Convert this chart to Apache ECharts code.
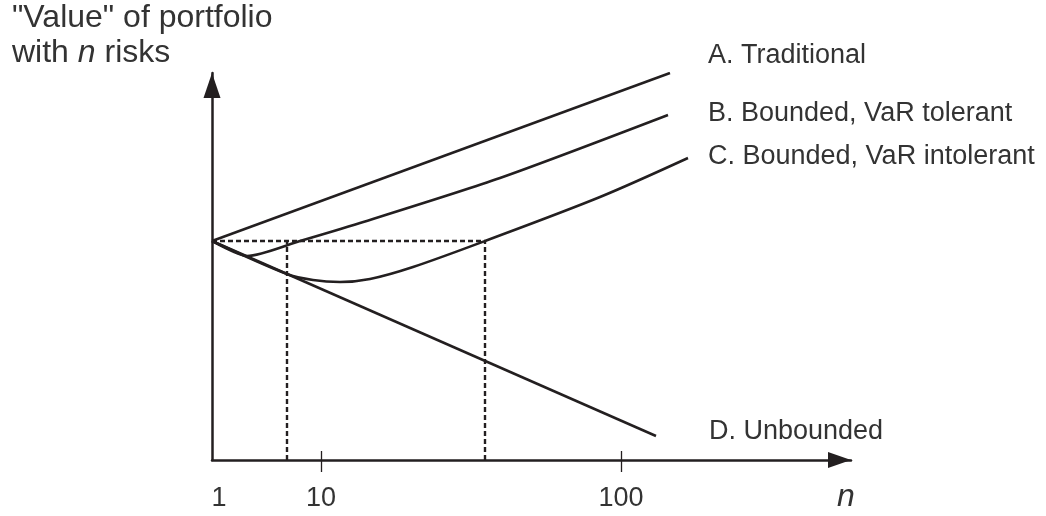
<!DOCTYPE html>
<html>
<head>
<meta charset="utf-8">
<script src="https://cdn.jsdelivr.net/npm/echarts@6/dist/echarts.min.js"></script>
<style>
html,body{margin:0;padding:0;background:#fff;}
#c{width:1046px;height:516px;}
</style>
</head>
<body>
<div id="c"></div>
<script>
// Schematic chart: x and y are in abstract "chart units".
const xTickAt = [0, 109, 409];
const xTickText = ['1', '10', '100'];
const seriesNames = ['A. Traditional', 'B. Bounded, VaR tolerant', 'C. Bounded, VaR intolerant', 'D. Unbounded'];
const lineA = [[0, 219], [458, 387]];
const lineB = [[0, 219], [35, 204], [88, 219], [148, 237], [288, 282], [456, 345]];
const lineC = [[0, 219], [75, 186], [101, 180], [128, 178], [158, 181], [201, 193], [273, 219], [388, 263], [476, 302]];
const lineD = [[0, 219], [444, 24]];
const guideH = [[0, 219], [273, 219]];
const guideV1 = [[75, 0], [75, 219]];
const guideV2 = [[273, 0], [273, 219]];

const INK = '#231f20';
const TXT = '#333333';
const FONT = '"Liberation Sans", Arial, Helvetica, sans-serif';

const chart = echarts.init(document.getElementById('c'), null, {renderer: 'canvas'});

const labelOffsets = [[30, -17], [32, -1], [12, -1], [45, -4]];
const datas = [lineA, lineB, lineC, lineD];
const smooths = [false, 0.25, 0.3, false];

const mainSeries = datas.map((d, i) => ({
  name: seriesNames[i],
  type: 'line',
  data: d,
  smooth: smooths[i],
  showSymbol: false,
  symbol: 'none',
  lineStyle: {color: INK, width: 2.5},
  endLabel: {
    show: true,
    formatter: p => p.seriesName,
    color: TXT,
    fontSize: 27,
    fontFamily: FONT,
    offset: labelOffsets[i]
  },
  animation: false,
  silent: true,
  z: 3
}));

const guideSeries = [guideH, guideV1, guideV2].map(d => ({
  type: 'line',
  data: d,
  showSymbol: false,
  symbol: 'none',
  lineStyle: {color: INK, width: 2.4, type: [5, 3]},
  animation: false,
  silent: true,
  z: 2
}));

const option = {
  backgroundColor: '#ffffff',
  animation: false,
  title: {
    text: '"Value" of portfolio\nwith {i|n} risks',
    left: 12,
    top: 1,
    padding: 0,
    textStyle: {
      fontSize: 32, fontWeight: 'normal', color: TXT, fontFamily: FONT, lineHeight: 35,
      rich: {
        i: {fontSize: 32, fontStyle: 'italic', color: TXT, fontFamily: FONT, lineHeight: 35}
      }
    }
  },
  grid: {left: 212, right: 195, top: 73, bottom: 56, containLabel: false, outerBoundsMode: 'none'},
  xAxis: [{
    type: 'value',
    min: 0, max: 639,
    position: 'bottom',
    splitLine: {show: false},
    axisLine: {
      show: true, onZero: false,
      symbol: ['none', 'triangle'],
      symbolSize: [16, 23],
      symbolOffset: [0, -11.5],
      lineStyle: {color: INK, width: 2.5}
    },
    axisTick: {show: true, customValues: xTickAt.slice(1), length: 12, lineStyle: {color: INK, width: 1.3}},
    axisLabel: {
      show: true,
      customValues: xTickAt,
      margin: 25,
      color: TXT, fontSize: 27, fontFamily: FONT,
      formatter: v => {
        const k = xTickAt.indexOf(v);
        if (k < 0) return '';
        return k === 0 ? '{p|' + xTickText[k] + '}' : xTickText[k];
      },
      rich: {p: {padding: [0, 0, 0, 14], color: TXT, fontSize: 27, fontFamily: FONT}}
    },
    name: 'n',
    nameLocation: 'end',
    nameGap: -5,
    nameTextStyle: {
      fontSize: 32, fontStyle: 'italic', color: TXT, fontFamily: FONT,
      align: 'center', verticalAlign: 'top', padding: [21, 0, 0, 0]
    }
  }, {
    type: 'value',
    min: 0, max: 639,
    position: 'bottom',
    splitLine: {show: false},
    axisLine: {show: false, onZero: false},
    axisTick: {show: true, inside: true, customValues: xTickAt.slice(1), length: 9, lineStyle: {color: INK, width: 1.3}},
    axisLabel: {show: false}
  }],
  yAxis: {
    type: 'value',
    min: 0, max: 387,
    splitLine: {show: false},
    axisLine: {
      show: true, onZero: false,
      symbol: ['none', 'triangle'],
      symbolSize: [17, 25],
      symbolOffset: [0, -12.5],
      lineStyle: {color: INK, width: 2.5}
    },
    axisTick: {show: false},
    axisLabel: {show: false}
  },
  series: guideSeries.concat(mainSeries)
};
chart.setOption(option);
</script>
</body>
</html>
